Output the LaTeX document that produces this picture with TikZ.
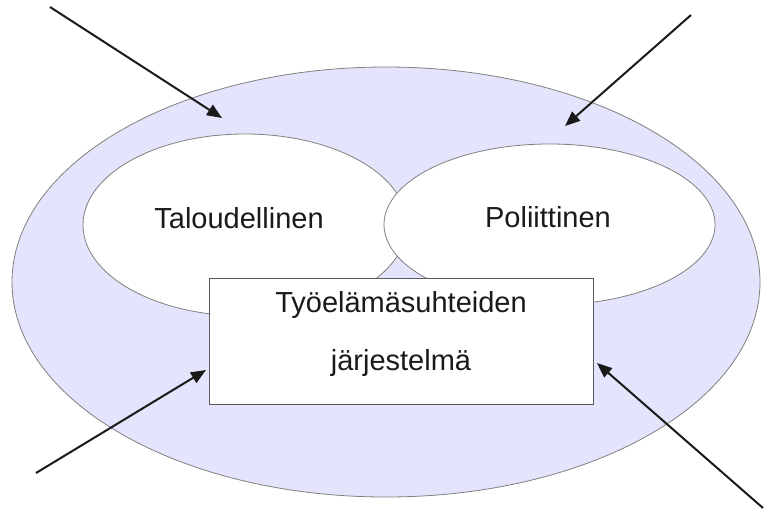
\documentclass[tikz,border=0pt]{standalone}
\usepackage{fontspec}
\setmainfont{Liberation Sans}
\usetikzlibrary{shapes.geometric,arrows.meta}
\definecolor{lav}{RGB}{228,228,252}
\definecolor{edge}{RGB}{128,128,128}
\definecolor{ink}{RGB}{26,26,26}
\tikzset{
  oval/.style={ellipse,draw=edge,line width=0.8pt,inner sep=0pt},
  sysbox/.style={rectangle,draw=edge!70!black,line width=1pt,fill=white,inner sep=0pt},
  lbl/.style={text=ink,font=\fontsize{29}{58}\selectfont,align=center},
  inarrow/.style={draw=ink,line width=2pt,-{Triangle[length=15pt,width=12pt]}}
}
\begin{document}
\begin{tikzpicture}[x=1pt,y=-1pt]
\useasboundingbox (0,0) rectangle (765,517);
\node[oval,fill=lav,minimum width=748,minimum height=430] (outer) at (386,282) {};
\node[oval,fill=white,minimum width=324,minimum height=182] (talous) at (245,225) {};
\node[oval,fill=white,minimum width=331,minimum height=161] (poli) at (549.5,224.5) {};
\node[lbl] (tl) at (239,218) {Taloudellinen};
\node[lbl] (pl) at (548,217) {Poliittinen};
\node[sysbox,minimum width=384,minimum height=126] (sys) at (401,341) {};
\node[lbl] (sl) at (401,334) {Työelämäsuhteiden\\järjestelmä};
\coordinate (s1) at (50,7);   \coordinate (e1) at (222,118);
\coordinate (s2) at (691,15); \coordinate (e2) at (565,126);
\coordinate (s3) at (36,473); \coordinate (e3) at (206,370);
\coordinate (s4) at (763,508);\coordinate (e4) at (597,363);
\draw[inarrow] (s1) -- (e1);
\draw[inarrow] (s2) -- (e2);
\draw[inarrow] (s3) -- (e3);
\draw[inarrow] (s4) -- (e4);
\end{tikzpicture}
\end{document}
